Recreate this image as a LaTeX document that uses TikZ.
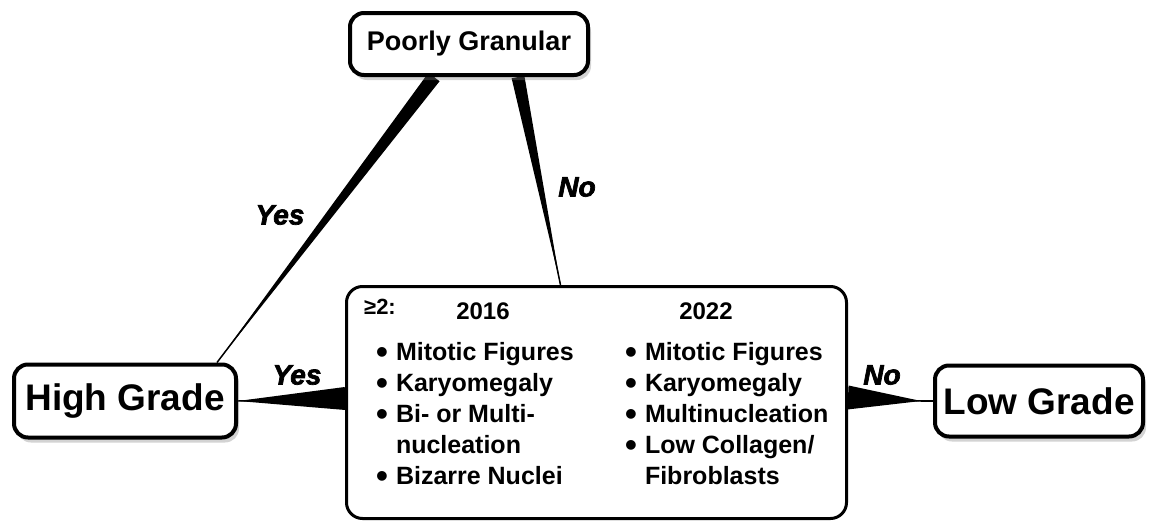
\documentclass[tikz,border=0pt]{standalone}
\usepackage{fontspec}
\setmainfont{Liberation Sans}
\newfontfamily\heavyfont[FakeBold=2.5]{Liberation Sans Bold Italic}
\usetikzlibrary{calc,shadows,backgrounds}

\tikzset{grade/.style={draw, line width=4pt, rounded corners=14pt, fill=white, inner sep=0pt, font=\bfseries\fontsize{37}{40}\selectfont, drop shadow={opacity=0.35, shadow xshift=3pt, shadow yshift=-5pt}}}
\tikzset{critbox/.style={draw, line width=3pt, rounded corners=16pt, fill=white, inner sep=0pt}}
\tikzset{answer/.style={font=\heavyfont\fontsize{28}{30}\selectfont}}
\tikzset{items/.style={anchor=base west, inner sep=0pt, font=\bfseries\fontsize{25}{31}\selectfont}}
\def \yearfont {\bfseries\fontsize{24}{28}\selectfont}
\def \dotitem {\raisebox{-3pt}{\scalebox{1.35}{\textbullet}}}

\begin{document}
\begin{tikzpicture}[x=1pt, y=-1pt]
    \useasboundingbox (0,0) rectangle (1152,525);

    \node[grade, minimum width=238pt, minimum height=62pt, font=\bfseries\fontsize{27}{30}\selectfont] (pg) at (469,44) {Poorly Granular};
    \node[grade, minimum width=222pt, minimum height=73pt] (hg) at (125,401) {High Grade};
    \node[grade, minimum width=208pt, minimum height=71pt] (lg) at (1039,401) {Low Grade};
    \node[critbox, minimum width=500pt, minimum height=232pt] (cr) at (596.5,402.5) {};

    \coordinate (pgY) at ([xshift=-35pt]pg.south);
    \coordinate (pgN) at ([xshift=49pt]pg.south);
    \coordinate (hgY) at ([xshift=-21pt]hg.north east);
    \coordinate (crN) at ([xshift=-36pt]cr.north);
    \coordinate (crY) at ([yshift=4pt]cr.west);
    \coordinate (crL) at ([yshift=5pt]cr.east);
    \coordinate (lgT) at ([xshift=-12pt]lg.west);

    \begin{scope}[on background layer]
    \foreach \wide/\thin/\half in {pgY/hgY/7pt, pgN/crN/6.5pt, crY/hg.east/11.5pt, crL/lgT/12pt} {
    \fill ($(\wide)!\half!90:(\thin)$) -- ($(\wide)!\half!-90:(\thin)$) -- (\thin) -- cycle;
    \draw[line width=1.5pt] (\wide) -- (\thin);
    }
    \draw[line width=1.5pt] (lgT) -- (lg.west);
    \end{scope}

    \node[answer] (yes1) at (280,215) {Yes};
    \node[answer] (no1) at (577,187) {No};
    \node[answer] (yes2) at (297,375) {Yes};
    \node[answer] (no2) at (882,375) {No};

    \node[font=\bfseries\fontsize{22}{24}\selectfont] (ge) at (380,307) {≥2:};
    \node[font=\yearfont] (y16) at (483,311) {2016};
    \node[font=\yearfont] (y22) at (706,311) {2022};

    \node[items] (l16) at (376,360) {\begin{tabular}[t]{@{}l@{\hspace{8pt}}l@{}}
    \dotitem & Mitotic Figures\\
    \dotitem & Karyomegaly\\
    \dotitem & Bi- or Multi-\\
             & nucleation\\
    \dotitem & Bizarre Nuclei
    \end{tabular}};
    \node[items] (l22) at (625,360) {\begin{tabular}[t]{@{}l@{\hspace{8pt}}l@{}}
    \dotitem & Mitotic Figures\\
    \dotitem & Karyomegaly\\
    \dotitem & Multinucleation\\
    \dotitem & Low Collagen/\\
             & Fibroblasts
    \end{tabular}};

\end{tikzpicture}
\end{document}
